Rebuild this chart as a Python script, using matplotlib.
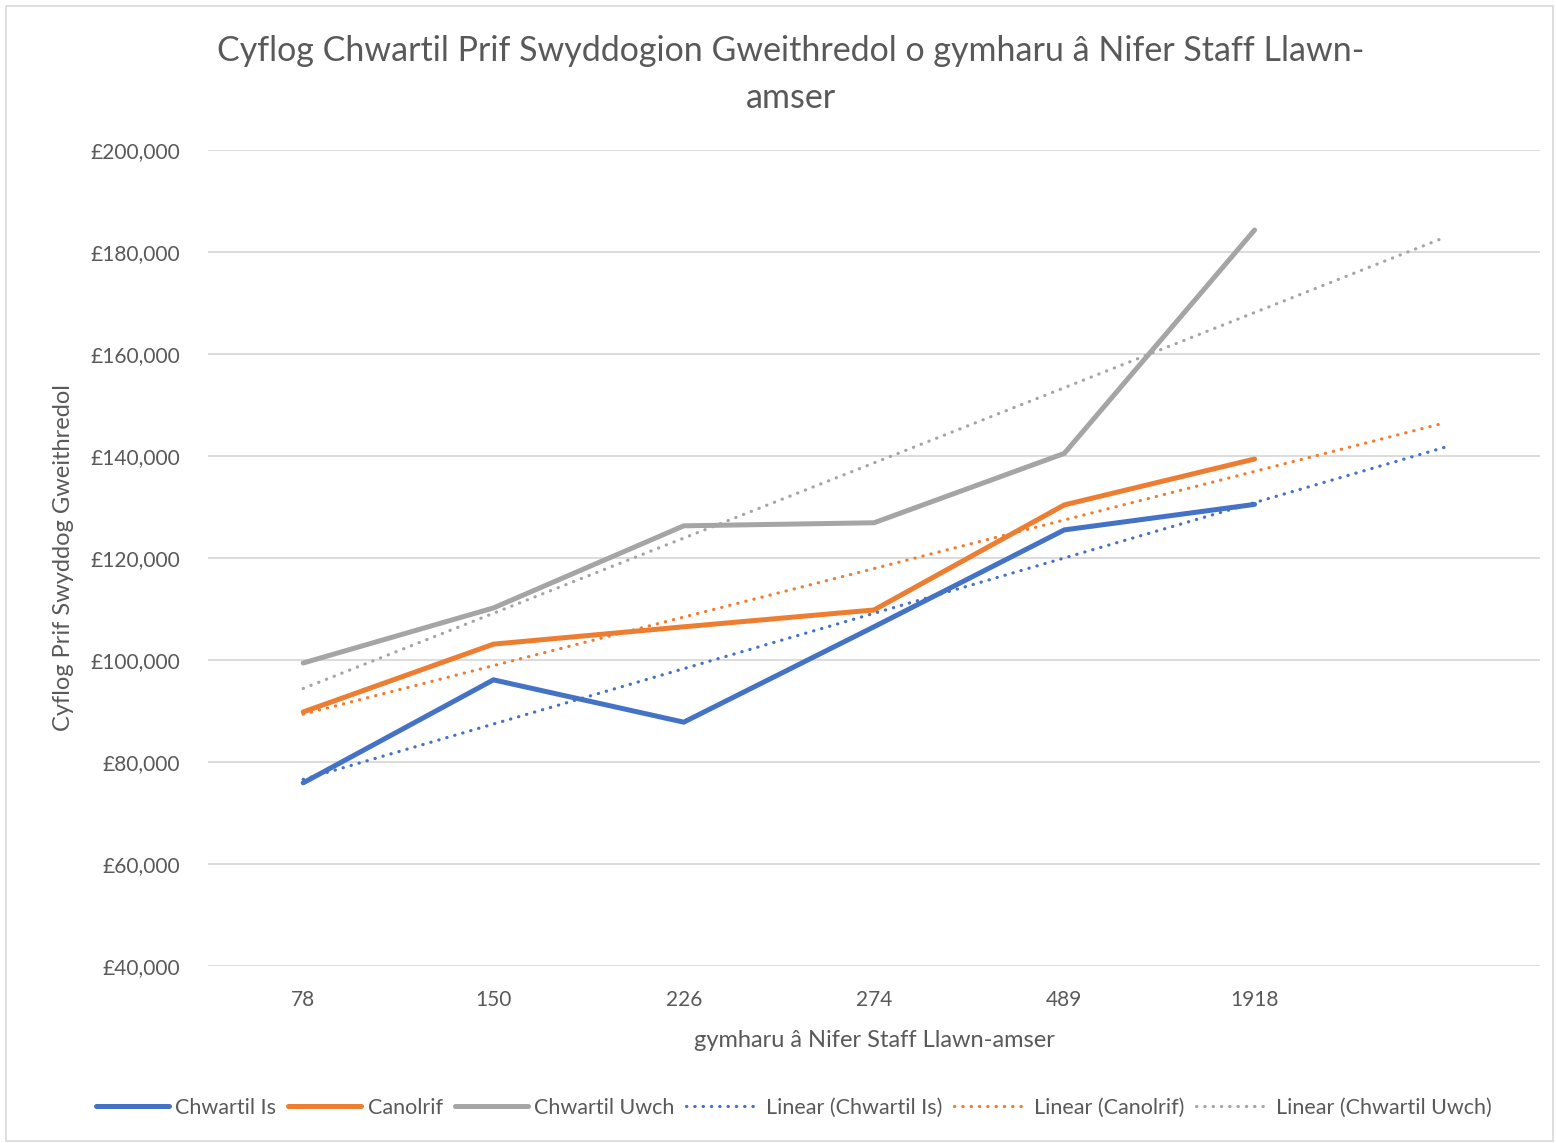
import matplotlib.pyplot as plt
import numpy as npy
from matplotlib.patches import Rectangle
from matplotlib.ticker import FuncFormatter

plt.rcParams['font.family'] = ['Lato', 'DejaVu Sans']

# staff counts (categories)
categories = ['78', '150', '226', '274', '489', '1918']
chwartil_is = [75900, 96100, 87800, 106500, 125500, 130500]
canolrif = [89800, 103100, 106500, 109800, 130400, 139400]
chwartil_uwch = [99400, 110200, 126300, 126900, 140500, 184300]

series = [
    ('Chwartil Is', chwartil_is, '#4472C4'),
    ('Canolrif', canolrif, '#ED7D31'),
    ('Chwartil Uwch', chwartil_uwch, '#A5A5A5'),
]
forward = 1  # trendline forecast periods

TXT = '#595959'

fig = plt.figure(figsize=(15.56, 11.43), dpi=100)
ax = fig.add_axes([0.1337, 0.1549, 0.8560, 0.7139])

x = npy.arange(1, len(categories) + 1)
handles = []
for name, vals, col in series:
    h, = ax.plot(x, vals, color=col, lw=3.6, solid_capstyle='round',
                 solid_joinstyle='miter', label=name, zorder=3)
    handles.append(h)

trend_handles = []
for name, vals, col in series:
    m, b = npy.polyfit(x, vals, 1)
    xt = npy.arange(1, len(categories) + 1 + forward)
    h, = ax.plot(xt, m * xt + b, color=col, lw=2.3, linestyle=(0, (0.1, 2.5)),
                 dash_capstyle='round', label='Linear (%s)' % name, zorder=4)
    trend_handles.append(h)

ax.set_xlim(0.5, len(categories) + forward + 0.5)
ax.set_ylim(40000, 200000)
ax.set_yticks(range(40000, 200001, 20000))
ax.yaxis.set_major_formatter(FuncFormatter(lambda v, p: '£{:,.0f}'.format(v)))
ax.set_xticks(x)
ax.set_xticklabels(categories)
ax.tick_params(length=0, labelsize=15, colors=TXT)
ax.tick_params(axis='x', pad=17)
ax.tick_params(axis='y', pad=20)
ax.grid(axis='y', color='#D9D9D9', lw=1.3)
ax.set_axisbelow(True)
for s in ax.spines.values():
    s.set_visible(False)

ax.set_xlabel('gymharu â Nifer Staff Llawn-amser', fontsize=17, color=TXT, labelpad=15)
ax.set_ylabel('Cyflog Prif Swyddog Gweithredol', fontsize=17, color=TXT, labelpad=12)

fig.text(0.508, 0.955, 'Cyflog Chwartil Prif Swyddogion Gweithredol o gymharu â Nifer Staff Llawn-',
         ha='center', va='center', fontsize=24.5, color=TXT)
fig.text(0.508, 0.914, 'amser', ha='center', va='center', fontsize=24.5, color=TXT)

leg = fig.legend(handles + trend_handles, [h.get_label() for h in handles + trend_handles],
                 loc='center', bbox_to_anchor=(0.51, 0.031), ncol=6, frameon=False,
                 fontsize=15.5, handlelength=3.4, handletextpad=0.3, columnspacing=0.55)
for t in leg.get_texts():
    t.set_color(TXT)

fig.patches.append(Rectangle((0.004, 0.002), 0.994, 0.993, transform=fig.transFigure,
                             fill=False, edgecolor='#D9D9D9', lw=1.2))

fig.savefig('out.png', dpi=100)
